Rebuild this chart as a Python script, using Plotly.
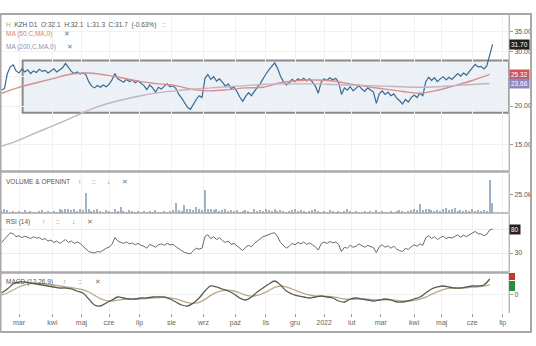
import math
import plotly.graph_objects as go

# ---------------- data ----------------
month_labels = ["mar", "kwi", "maj", "cze", "lip", "sie", "wrz", "paź", "lis",
                "gru", "2022", "lut", "mar", "kwi", "maj", "cze", "lip"]
month_start_day = [12, 35, 55, 74, 95, 117, 139, 161, 182, 202, 222, 241, 261,
                   284, 303, 324, 345]

# close, sampled every 2 trading days
close = [22.5, 22.8, 25.5, 26.8, 27.2, 26.0, 25.6, 26.4, 25.8, 26.2,
         25.5, 26.0, 25.7, 26.3, 25.9, 26.1, 25.6, 26.0, 26.4, 25.8,
         26.2, 26.6, 27.5, 26.6, 25.9, 25.5, 25.8, 25.4, 25.6, 25.3,
         24.0, 23.2, 22.9, 23.3, 23.0, 23.4, 23.1, 23.5, 24.3, 25.5,
         24.5, 24.2, 23.9, 24.4, 24.0, 24.3, 23.8, 24.1, 23.7, 23.3,
         22.6, 23.4, 22.9, 22.2, 23.0, 22.7, 23.2, 23.6, 23.1, 23.3,
         22.8, 21.8, 21.2, 20.5, 19.8, 19.5, 20.3, 21.0, 21.6, 21.3,
         24.6, 25.3, 24.4, 24.9, 24.1, 24.5, 23.9, 23.2, 23.6, 22.8,
         23.0, 22.3, 21.4, 20.7, 21.5, 22.1, 21.6, 22.4, 23.0, 23.6,
         24.6, 25.4, 26.2, 26.8, 27.6, 26.5, 25.0, 24.0, 23.4, 23.8,
         24.4, 24.0, 24.5, 24.2, 24.6, 24.1, 24.5, 23.9, 23.2, 22.0,
         23.9, 24.5, 24.2, 24.7, 24.3, 24.6, 23.9, 21.8, 22.9, 22.5,
         23.1, 22.4, 22.8, 23.3, 22.7, 22.3, 22.9, 22.6, 22.2, 20.4,
         21.9, 22.4, 21.8, 22.2, 21.6, 21.9, 21.2, 20.8, 20.3, 21.0,
         20.6, 21.3, 21.7, 21.3, 22.0, 21.6, 24.0, 24.8, 24.2, 24.7,
         24.0, 24.5, 24.9, 24.3, 24.8, 24.4, 25.0, 25.5, 25.0, 25.6,
         25.2, 25.8, 26.6, 27.3, 26.8, 26.9, 26.4, 27.0, 29.0, 31.7]

volume_k = [3, 5, 4, 2, 3, 2, 3, 2, 4, 2,
            3, 2, 2, 3, 4, 2, 3, 2, 3, 2,
            5, 4, 6, 5, 4, 6, 3, 5, 4, 27,
            6, 3, 4, 5, 3, 2, 4, 3, 2, 5,
            3, 8, 3, 2, 4, 3, 2, 3, 2, 3,
            2, 3, 2, 4, 2, 2, 3, 2, 3, 4,
            13, 4, 3, 11, 5, 6, 4, 8, 5, 4,
            31, 6, 5, 4, 6, 3, 4, 5, 3, 4,
            3, 4, 2, 3, 4, 3, 2, 5, 3, 4,
            3, 6, 4, 3, 5, 3, 4, 3, 2, 3,
            4, 6, 3, 4, 3, 2, 3, 4, 5, 3,
            2, 3, 2, 4, 3, 2, 3, 2, 3, 6,
            3, 2, 3, 2, 2, 3, 2, 3, 2, 4,
            2, 3, 2, 2, 3, 2, 3, 4, 3, 2,
            3, 4, 5, 4, 12, 4, 6, 5, 4, 3,
            4, 3, 5, 7, 4, 6, 7, 3, 4, 3,
            4, 3, 5, 3, 4, 3, 4, 3, 45, 14]

rsi = [52, 58, 66, 72, 70,
       64, 66, 62, 65, 63, 60, 64, 61, 62,
       58, 60, 55, 57, 52, 55, 50, 54, 58, 52, 55, 50, 53,
       50, 45, 38, 33,
       31, 30, 33, 32,
       36, 40, 42, 48,
       62,
       55, 52, 50, 53, 49, 51, 47, 50, 46, 44, 40,
       48, 45, 42, 47, 49, 46,
       50, 47, 48, 43, 38, 35, 31, 29,
       28, 35, 40,
       38, 40,
       64, 68,
       60, 64, 58, 62, 56, 52,
       55, 48, 50, 44, 40, 35, 42, 46, 43,
       50, 55, 60, 64, 66, 69, 71, 72,
       64,
       52, 45, 40, 44,
       50, 47, 52, 49, 53, 48, 51, 47, 43, 36, 49, 53, 50, 54, 51, 53,
       48, 33, 42,
       40, 46, 42, 44, 49, 45,
       42, 46, 44, 41,
       31,
       43, 47, 42, 45, 40, 44, 38, 35, 33,
       40, 37, 43, 47, 44, 49, 46,
       62, 66,
       60, 64, 58, 62, 65, 60, 63, 61, 65, 68, 63, 67, 64, 68, 72, 75, 70,
       70, 66, 69,
       78, 80]

# moving averages, sampled every 12 trading days
ma50 = [22.0, 23.0, 23.8, 24.6, 25.4, 25.6, 25.2, 24.6, 24.0, 23.6,
        23.3, 22.6, 22.4, 22.6, 22.9, 23.0, 23.8, 24.2, 24.3, 24.1,
        23.6, 23.1, 22.7, 22.3, 22.0, 22.5, 23.3, 24.2, 25.32]
ma200 = [14.8, 15.5, 16.4, 17.3, 18.3, 19.4, 20.3, 21.0, 21.6, 22.1,
         22.4, 22.7, 22.9, 23.1, 23.3, 23.5, 23.6, 23.6, 23.6, 23.5,
         23.4, 23.3, 23.2, 23.1, 23.0, 23.1, 23.3, 23.5, 23.66]

# MACD, sampled every 4 trading days
macd = [0.1, 0.3, 0.55, 0.65, 0.65, 0.6, 0.55, 0.5, 0.45, 0.4,
        0.35, 0.35, 0.3, 0.2, 0.1, -0.2, -0.5, -0.55, -0.4, -0.25,
        -0.1, -0.15, -0.2, -0.2, -0.15, -0.15, -0.1, -0.1, -0.1, -0.2,
        -0.35, -0.5, -0.55, -0.4, -0.15, 0.2, 0.45, 0.4, 0.3, 0.2,
        0.05, -0.15, -0.25, -0.1, 0.15, 0.35, 0.55, 0.7, 0.5, 0.2,
        0.05, -0.05, -0.1, -0.15, -0.1, -0.05, -0.1, -0.15, -0.3, -0.35,
        -0.2, -0.15, -0.2, -0.25, -0.3, -0.25, -0.2, -0.25, -0.35, -0.35,
        -0.3, -0.2, -0.1, 0.1, 0.3, 0.4, 0.45, 0.4, 0.35, 0.35,
        0.4, 0.45, 0.45, 0.5, 0.8]
signal = [0.0, 0.1, 0.25, 0.4, 0.5, 0.57, 0.6, 0.58, 0.54, 0.5,
          0.45, 0.41, 0.37, 0.32, 0.26, 0.15, -0.02, -0.18, -0.28, -0.3,
          -0.26, -0.22, -0.2, -0.2, -0.19, -0.17, -0.15, -0.13, -0.12, -0.14,
          -0.2, -0.29, -0.38, -0.42, -0.37, -0.22, -0.02, 0.13, 0.22, 0.24,
          0.2, 0.1, -0.01, -0.06, -0.02, 0.08, 0.22, 0.38, 0.45, 0.4,
          0.3, 0.18, 0.08, 0.0, -0.05, -0.06, -0.07, -0.09, -0.14, -0.2,
          -0.22, -0.21, -0.2, -0.21, -0.24, -0.25, -0.24, -0.24, -0.27, -0.3,
          -0.3, -0.27, -0.21, -0.11, 0.03, 0.16, 0.27, 0.33, 0.35, 0.35,
          0.36, 0.39, 0.41, 0.44, 0.52]

zone_days = [14.5, 349.3]       # analyst's range box
zone_prices = [19.0, 28.1]

price_ticks = [15, 20, 25, 30, 35]
price_tick_text = ["15.00", "20.00", "", "30.00", "35.00"]   # 25.00 hidden by flag

day2 = list(range(0, 2 * len(close), 2))
day12 = list(range(0, 12 * len(ma50), 12))
day4 = list(range(0, 4 * len(macd), 4))
volume = [v * 1000 for v in volume_k]

# ---------------- figure ----------------
FONT = "Liberation Sans, Arial, sans-serif"
W, H = 536, 346
L, R, T, B = 1, 27, 14, 33
PW, PH = W - L - R, H - T - B


def px(xp):
    return (xp - L) / PW


def py(yp):
    return (H - B - yp) / PH


fig = go.Figure()
fig.add_trace(go.Scatter(x=day2, y=close, mode="lines", xaxis="x", yaxis="y",
                         line=dict(color="#3a6a90", width=1.2)))
fig.add_trace(go.Scatter(x=day12, y=ma50, mode="lines", xaxis="x", yaxis="y",
                         line=dict(color="#d68f8f", width=1.4, shape="spline")))
fig.add_trace(go.Scatter(x=day12, y=ma200, mode="lines", xaxis="x", yaxis="y",
                         line=dict(color="#c4b3c0", width=1.4, shape="spline")))
fig.add_trace(go.Bar(x=day2, y=volume, xaxis="x2", yaxis="y2", width=0.9,
                     marker=dict(color="#9fb3c8", line=dict(width=0))))
fig.add_trace(go.Scatter(x=day2, y=rsi, mode="lines", xaxis="x3", yaxis="y3",
                         line=dict(color="#6a6a6a", width=1)))
fig.add_trace(go.Scatter(x=day4, y=signal, mode="lines", xaxis="x4", yaxis="y4",
                         line=dict(color="#b9a98a", width=1.3, shape="spline")))
fig.add_trace(go.Scatter(x=day4, y=macd, mode="lines", xaxis="x4", yaxis="y4",
                         line=dict(color="#5a5a52", width=1.3, shape="spline")))

xr = [-0.39, 349.3]
xcommon = dict(range=xr, tickvals=month_start_day, showgrid=True,
               gridcolor="#f1f1f1", gridwidth=1, zeroline=False, showline=False)
ycommon = dict(side="right", ticks="outside", ticklen=3, tickcolor="#999",
               tickfont=dict(family=FONT, size=7, color="#555"), zeroline=False,
               showline=True, linecolor="#bbbbbb", linewidth=1)

fig.update_layout(
    width=W, height=H, margin=dict(l=L, r=R, t=T, b=B),
    paper_bgcolor="white", plot_bgcolor="white", showlegend=False, bargap=0,
    xaxis=dict(anchor="y", showticklabels=False, **xcommon),
    xaxis2=dict(anchor="y2", matches="x", showticklabels=False, **xcommon),
    xaxis3=dict(anchor="y3", matches="x", showticklabels=False, **xcommon),
    xaxis4=dict(anchor="y4", matches="x", ticktext=month_labels, ticks="outside",
                ticklen=3, tickcolor="#999",
                tickfont=dict(family=FONT, size=7, color="#666"), **xcommon),
    yaxis=dict(domain=[0.4732, 1.0], type="log", range=[1.0884, 1.5997],
               tickvals=price_ticks, ticktext=price_tick_text,
               showgrid=True, gridcolor="#f1f1f1", **ycommon),
    yaxis2=dict(domain=[0.3344, 0.4682], range=[0, 54600], tickvals=[25000],
                ticktext=["25.0k"], showgrid=False, **ycommon),
    yaxis3=dict(domain=[0.1371, 0.3311], range=[-9.6, 111.25], tickvals=[30, 80],
                ticktext=["30", ""], showgrid=True, gridcolor="#ececec", **ycommon),
    yaxis4=dict(domain=[0.0, 0.1338], range=[-0.9, 1.1], tickvals=[0],
                ticktext=["0"], showgrid=True, gridcolor="#f1f1f1", **ycommon),
)

shapes = []
# analyst range box
shapes.append(dict(type="rect", xref="x", yref="y", x0=zone_days[0], x1=zone_days[1],
                   y0=zone_prices[0], y1=zone_prices[1],
                   fillcolor="rgba(200,212,232,0.35)",
                   line=dict(color="#8a8a8a", width=2), layer="below"))
# outer frame
shapes.append(dict(type="rect", xref="paper", yref="paper", x0=px(0.5), x1=px(531),
                   y0=py(332), y1=py(14), line=dict(color="#a8a8a8", width=2)))
# panel separators
for yp, wdt in [(171.5, 2.5), (213, 1.5), (272.5, 2.5)]:
    shapes.append(dict(type="line", xref="paper", yref="paper", x0=px(0.5), x1=1.0,
                       y0=py(yp), y1=py(yp), line=dict(color="#aaaaaa", width=wdt)))
shapes.append(dict(type="line", xref="paper", yref="paper", x0=1.0, x1=1.0,
                   y0=0, y1=1, line=dict(color="#bbbbbb", width=1)))
# MACD value flags
shapes.append(dict(type="rect", xref="paper", yref="paper", x0=px(509), x1=px(515),
                   y0=py(280), y1=py(273), fillcolor="#c0392b", line=dict(width=0)))
shapes.append(dict(type="rect", xref="paper", yref="paper", x0=px(509), x1=px(515),
                   y0=py(291), y1=py(281), fillcolor="#2e8b3e", line=dict(width=0)))
fig.update_layout(shapes=shapes)

ann = []


def label(xp, yp, text, color, size=6.5):
    ann.append(dict(xref="paper", yref="paper", x=px(xp), y=py(yp), text=text,
                    showarrow=False, xanchor="left", yanchor="middle",
                    font=dict(family=FONT, size=size, color=color)))


label(4, 25, "<span style='color:#aaa'>H</span>  KZH D1  O:32.1  H:32.1  L:31.3  C:31.7  (-0.63%)", "#555")
label(160, 25, "::", "#888")
label(4, 34, "MA (50,C,MA,0)", "#d9826f")
label(62, 34, "✕", "#777")
label(4, 46.5, "MA (200,C,MA,0)", "#8a93b5")
label(65, 46.5, "✕", "#777")

label(4, 181.5, "VOLUME & OPENINT", "#555")
for xp, s in [(76, "↑"), (90, "::"), (105, "↓"), (120, "✕")]:
    label(xp, 181.5, s, "#777")
label(4, 221.5, "RSI (14)", "#555")
for xp, s in [(40, "↑"), (54, "::"), (70, "↓"), (85, "✕")]:
    label(xp, 221.5, s, "#777")
label(4, 281.5, "MACD (12,26,9)", "#555")
for xp, s in [(61, "↑"), (76, "::"), (93, "✕")]:
    label(xp, 281.5, s, "#777")


def flag(yref, yval, text, bg):
    ann.append(dict(xref="paper", yref=yref, x=1.0, y=yval, text=text, showarrow=False,
                    xanchor="left", yanchor="middle", bgcolor=bg, borderpad=1,
                    font=dict(family=FONT, size=6.5, color="white")))


flag("y", math.log10(close[-1]), f"{close[-1]:.2f}", "#222222")
flag("y", math.log10(ma50[-1]), f"{ma50[-1]:.2f}", "#d0535a")
flag("y", math.log10(ma200[-1]), f"{ma200[-1]:.2f}", "#8f86c0")
flag("y3", rsi[-1], f"{rsi[-1]}", "#222222")
fig.update_layout(annotations=ann)

fig.write_html("out.html")
